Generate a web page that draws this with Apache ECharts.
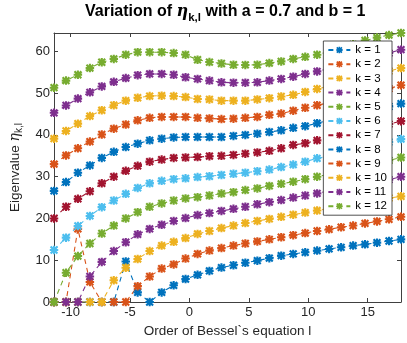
<!DOCTYPE html>
<html>
<head>
<meta charset="utf-8">
<script src="https://cdn.jsdelivr.net/npm/echarts@6/dist/echarts.min.js"></script>
<style>
  html, body { margin: 0; padding: 0; background: #fff; }
  #chart { width: 407px; height: 343px; }
</style>
</head>
<body>
<div id="chart"></div>
<script>
// order of Bessel equation l (x values)
var orderL = [-11.40, -10.39, -9.39, -8.38, -7.38, -6.37, -5.36, -4.36, -3.35, -2.34,
              -1.33, -0.33, 0.68, 1.68, 2.69, 3.70, 4.70, 5.71, 6.72, 7.72,
              8.73, 9.74, 10.74, 11.75, 12.76, 13.77, 14.77, 15.78, 16.79, 17.80];

// eigenvalues eta_{k,l}, one array per k
var eta1  = [0, 0, 0, 0, 0, 0, 9.7, 2.3, 0, 2.3, 4.0, 5.5, 6.5, 7.45, 8.25, 8.8, 9.4, 9.9, 10.5, 11.1, 11.5, 11.9, 12.3, 12.7, 13.1, 13.5, 13.8, 14.2, 14.6, 15.0];
var eta2  = [0, 0, 17.5, 4.8, 0, 0, 0, 3.8, 6.1, 8.0, 9.0, 10.4, 11.5, 12.3, 12.9, 13.5, 14.0, 14.5, 15.0, 15.5, 16.0, 16.5, 17.0, 17.4, 17.9, 18.3, 18.8, 19.3, 19.8, 20.4];
var eta3  = [0, 0, 0, 0, 0, 5.2, 8.2, 10.3, 12.2, 13.5, 14.4, 15.3, 16.3, 17.0, 17.7, 18.3, 18.9, 19.4, 19.9, 20.4, 20.9, 21.4, 21.9, 22.4, 22.9, 23.4, 23.9, 24.4, 24.9, 25.3];
var eta4  = [0, 0, 0, 6.1, 9.6, 12.2, 14.3, 16.2, 17.5, 18.5, 19.4, 20.1, 20.8, 21.3, 21.8, 22.3, 22.8, 23.4, 23.9, 24.4, 25.0, 25.5, 26.0, 26.6, 27.1, 27.6, 28.2, 28.7, 29.3, 30.0];
var eta5  = [0, 7.0, 11.0, 14.0, 16.4, 18.3, 20.0, 21.5, 22.8, 23.6, 24.3, 24.8, 25.1, 25.5, 25.95, 26.3, 26.8, 27.2, 27.8, 28.3, 28.8, 29.4, 30.0, 30.6, 31.2, 31.9, 32.6, 33.2, 33.9, 34.6];
var eta6  = [12.45, 15.4, 18.2, 20.6, 22.7, 24.3, 25.9, 27.3, 28.4, 29.0, 29.4, 29.6, 29.9, 30.1, 30.4, 30.7, 30.95, 31.3, 31.7, 32.3, 32.9, 33.6, 34.4, 35.0, 35.6, 36.3, 36.9, 37.6, 38.3, 39.0];
var eta7  = [20.0, 22.8, 24.7, 26.5, 28.4, 30.0, 31.4, 32.6, 33.6, 34.1, 34.5, 34.6, 34.7, 34.9, 35.0, 35.2, 35.5, 35.8, 36.2, 36.8, 37.6, 38.0, 38.7, 39.3, 39.9, 40.5, 41.2, 41.9, 42.6, 43.3];
var eta8  = [26.6, 28.7, 30.95, 32.7, 34.5, 35.95, 37.1, 37.9, 38.7, 39.1, 39.4, 39.5, 39.5, 39.5, 39.5, 39.75, 40.0, 40.3, 40.7, 41.1, 41.7, 42.1, 42.8, 43.5, 44.1, 44.8, 45.5, 46.1, 46.8, 47.5];
var eta9  = [33.0, 35.1, 36.8, 38.4, 40.1, 41.5, 42.5, 43.5, 44.1, 44.3, 44.3, 44.3, 44.1, 43.95, 43.8, 43.9, 44.1, 44.3, 44.8, 45.1, 45.8, 46.5, 47.1, 47.7, 48.4, 49.0, 49.7, 50.4, 51.1, 51.9];
var eta10 = [39.1, 40.95, 42.7, 44.5, 45.9, 47.1, 48.2, 48.9, 49.3, 49.4, 49.3, 49.05, 48.6, 48.5, 48.2, 48.2, 48.2, 48.5, 48.8, 49.2, 49.6, 50.3, 51.0, 51.7, 52.4, 53.1, 53.8, 54.5, 55.3, 56.0];
var eta11 = [45.3, 47.05, 48.7, 50.2, 51.6, 52.7, 53.6, 54.3, 54.6, 54.6, 54.4, 53.8, 53.4, 53.0, 52.6, 52.5, 52.5, 52.6, 53.0, 53.4, 53.95, 54.6, 55.2, 55.9, 56.6, 57.3, 58.0, 58.8, 59.6, 60.4];
var eta12 = [51.3, 53.0, 54.4, 56.0, 57.4, 58.2, 59.2, 59.8, 59.8, 59.8, 59.6, 59.2, 58.0, 57.45, 57.1, 56.8, 56.75, 56.8, 57.2, 57.6, 58.2, 58.7, 59.2, 60.0, 60.8, 61.7, 62.6, 63.3, 63.9, 64.4];

var kNames = ['k = 1', 'k = 2', 'k = 3', 'k = 4', 'k = 5', 'k = 6',
              'k = 7', 'k = 8', 'k = 9', 'k = 10', 'k = 11', 'k = 12'];
var xTicks = [-10, -5, 0, 5, 10, 15];
var yTicks = [0, 10, 20, 30, 40, 50, 60];

var allEta = [eta1, eta2, eta3, eta4, eta5, eta6, eta7, eta8, eta9, eta10, eta11, eta12];
var colors = ['#0072BD', '#D95319', '#EDB120', '#7E2F8E', '#77AC30', '#4DBEEE', '#A2142F'];
var font = 'Liberation Sans, Arial, Helvetica, sans-serif';
var axisColor = '#404040';
var textColor = '#262626';

// matlab style '*' marker
var star = 'path://M0 7.5H20V12.5H0Z M7.5 0H12.5V20H7.5Z M0.23 3.77L3.77 0.23L19.77 16.23L16.23 19.77Z M16.23 0.23L19.77 3.77L3.77 19.77L0.23 16.23Z';

var yMax = 0;
allEta.forEach(function (arr) { arr.forEach(function (v) { if (v > yMax) yMax = v; }); });

var series = [];
for (var k = 0; k < allEta.length; k++) {
  var vals = allEta[k];
  series.push({
    name: kNames[k],
    type: 'line',
    data: orderL.map(function (l, i) { return [l, vals[i]]; }),
    symbol: star,
    symbolSize: 8.5,
    showSymbol: true,
    showAllSymbol: true,
    color: colors[k % colors.length],
    lineStyle: { width: 1.1, type: [5, 4] },
    emphasis: { disabled: true }
  });
}

var chart = echarts.init(document.getElementById('chart'));
chart.setOption({
  animation: false,
  backgroundColor: '#fff',
  title: {
    left: 85,
    top: 0,
    padding: 0,
    text: '{a|Variation of }{e|η}{s|k,l}{a| with a = 0.7 and b = 1}',
    textStyle: {
      rich: {
        a: { fontFamily: font, fontSize: 16, fontWeight: 'bold', color: '#000', lineHeight: 24, verticalAlign: 'middle' },
        e: { fontFamily: 'DejaVu Serif', fontStyle: 'italic', fontSize: 16, color: '#000', lineHeight: 24, verticalAlign: 'middle' },
        s: { fontFamily: font, fontSize: 11.5, fontWeight: 'bold', color: '#000', lineHeight: 10, verticalAlign: 'bottom' }
      }
    }
  },
  legend: {
    orient: 'vertical',
    right: 15,
    top: 41,
    data: kNames,
    backgroundColor: '#fff',
    borderColor: '#262626',
    borderWidth: 0.8,
    borderRadius: 0,
    padding: [3, 5, 3, 4],
    itemGap: 2.2,
    itemWidth: 22,
    itemHeight: 8,
    textStyle: { fontFamily: font, fontSize: 11.5, color: '#000', lineHeight: 12 }
  },
  grid: { left: 51, right: 6, top: 33, bottom: 40 },
  xAxis: [{
    type: 'value',
    min: orderL[0],
    max: orderL[orderL.length - 1],
    name: 'Order of Bessel`s equation l',
    nameLocation: 'middle',
    nameGap: 22,
    nameTextStyle: { fontFamily: font, fontSize: 13.5, color: textColor },
    axisLine: { show: true, onZero: false, lineStyle: { color: axisColor, width: 1 } },
    axisTick: { show: true, inside: true, length: 4, customValues: xTicks, lineStyle: { color: axisColor } },
    axisLabel: { customValues: xTicks, margin: 4, fontFamily: font, fontSize: 13, color: textColor },
    splitLine: { show: false }
  }, {
    type: 'value',
    position: 'top',
    min: orderL[0],
    max: orderL[orderL.length - 1],
    axisLine: { show: true, onZero: false, lineStyle: { color: axisColor, width: 1 } },
    axisTick: { show: true, inside: true, length: 4, customValues: xTicks, lineStyle: { color: axisColor } },
    axisLabel: { show: false },
    splitLine: { show: false }
  }],
  yAxis: [{
    type: 'value',
    min: 0,
    max: yMax,
    name: '{a|Eigenvalue }{e|η}{s|k,l}',
    nameLocation: 'middle',
    nameGap: 30,
    nameTextStyle: {
      rich: {
        a: { fontFamily: font, fontSize: 13.5, color: textColor, lineHeight: 18, verticalAlign: 'middle' },
        e: { fontFamily: 'DejaVu Serif', fontStyle: 'italic', fontSize: 14, color: textColor, lineHeight: 18, verticalAlign: 'middle' },
        s: { fontFamily: font, fontSize: 10, color: textColor, lineHeight: 9, verticalAlign: 'bottom' }
      }
    },
    axisLine: { show: true, onZero: false, lineStyle: { color: axisColor, width: 1 } },
    axisTick: { show: true, inside: true, length: 4, customValues: yTicks, lineStyle: { color: axisColor } },
    axisLabel: { customValues: yTicks, margin: 4, fontFamily: font, fontSize: 13, color: textColor },
    splitLine: { show: false }
  }, {
    type: 'value',
    position: 'right',
    min: 0,
    max: yMax,
    axisLine: { show: true, onZero: false, lineStyle: { color: axisColor, width: 1 } },
    axisTick: { show: true, inside: true, length: 4, customValues: yTicks, lineStyle: { color: axisColor } },
    axisLabel: { show: false },
    splitLine: { show: false }
  }],
  series: series
});
</script>
</body>
</html>
